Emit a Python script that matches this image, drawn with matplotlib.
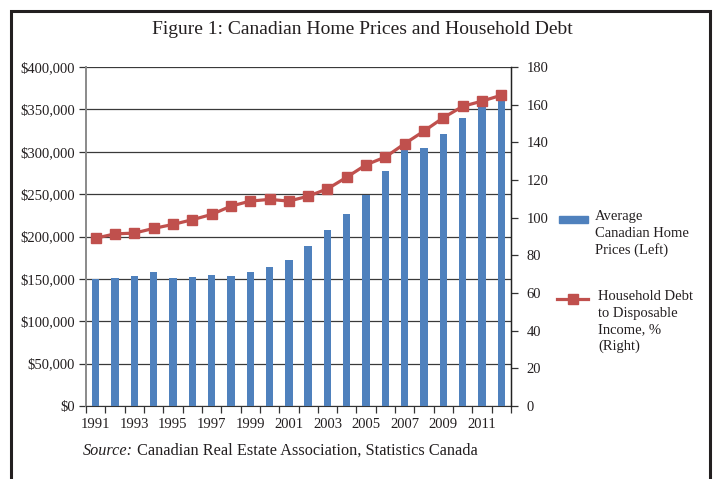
import matplotlib
matplotlib.use("Agg")
import matplotlib.pyplot as plt
from matplotlib.patches import Rectangle
from matplotlib.lines import Line2D
import numpy as np

years = list(range(1991, 2013))
home_prices = [149400, 150600, 153000, 158000, 150600, 151800, 154200, 153000,
               158000, 164400, 172300, 189000, 207900, 226900, 249000, 276700,
               304700, 305000, 320600, 340000, 356000, 362000]
debt_ratio = [89.1, 91.4, 91.8, 94.3, 96.4, 98.9, 101.7, 106.1, 108.8, 109.7,
              108.8, 111.4, 115.3, 121.5, 128.1, 132.2, 139.3, 146.0, 153.1,
              159.1, 161.9, 165.0]
left_ticks = [0, 50000, 100000, 150000, 200000, 250000, 300000, 350000, 400000]
right_ticks = [0, 20, 40, 60, 80, 100, 120, 140, 160, 180]

title = "Figure 1: Canadian Home Prices and Household Debt"
bar_label = "Average\nCanadian Home\nPrices (Left)"
line_label = "Household Debt\nto Disposable\nIncome, %\n(Right)"
source_lead = "Source:"
source_rest = " Canadian Real Estate Association, Statistics Canada"

BLUE = "#4F81BD"
RED = "#C0504D"
TXT = "#231F20"
SERIF = ["Liberation Serif", "DejaVu Serif"]
plt.rcParams['font.family'] = SERIF

W, H = 713, 479
fig = plt.figure(figsize=(W / 100, H / 100), dpi=100)

x0, x1, ytop, ybot = 86, 511, 67, 406
ax = fig.add_axes([x0 / W, 1 - ybot / H, (x1 - x0) / W, (ybot - ytop) / H])
ax2 = ax.twinx()

x = np.arange(len(years))
ax.bar(x, home_prices, width=0.38, color=BLUE, zorder=3)
ax.set_xlim(-0.5, len(years) - 0.5)
ax.set_ylim(0, 400000)
ax.set_yticks(left_ticks)
ax.set_yticklabels(["${:,}".format(v) for v in left_ticks])
ax.yaxis.grid(True, color="#3a3a3a", lw=0.9, zorder=0)
ax.set_axisbelow(True)

# x ticks: boundaries as major (marks), labels at odd years as minor
ax.set_xticks(np.arange(-0.5, len(years), 1.0))
ax.set_xticklabels([])
ax.set_xticks(x[::2], minor=True)
ax.set_xticklabels([str(y) for y in years[::2]], minor=True)
ax.tick_params(axis="x", which="major", direction="out", length=5, width=0.9, color="#333")
ax.tick_params(axis="x", which="minor", length=0, pad=9, labelsize=10.5, labelcolor=TXT)
ax.tick_params(axis="y", direction="out", length=5, width=0.9, color="#333",
               labelsize=10.5, labelcolor=TXT, pad=3)

ax2.plot(x, debt_ratio, color=RED, lw=2.3, marker="s", markersize=7.5,
         markerfacecolor=RED, markeredgecolor=RED, zorder=4)
ax2.set_ylim(0, 180)
ax2.set_yticks(right_ticks)
ax2.tick_params(axis="y", direction="out", length=5, width=0.9, color="#333",
                labelsize=10.5, labelcolor=TXT, pad=6)

for a in (ax, ax2):
    a.spines["top"].set_visible(False)
ax.spines["left"].set_color("#8a8a8a")
ax.spines["left"].set_linewidth(1.4)
ax.spines["bottom"].set_color("#333")
ax2.spines["left"].set_visible(False)
ax2.spines["bottom"].set_visible(False)
ax2.spines["right"].set_color("#222")
ax2.spines["right"].set_linewidth(1.0)

# Title
fig.text(362 / W, 1 - 30 / H, title, ha="center", va="center", fontsize=14, color=TXT)

# Legend (manual)
fig.patches.append(Rectangle((559 / W, 1 - 223 / H), 29 / W, 7 / H,
                             transform=fig.transFigure, color=BLUE))
fig.text(595 / W, 1 - 210 / H, bar_label, ha="left", va="top", fontsize=10.5,
         color=TXT, linespacing=1.36)
fig.lines.append(Line2D([557 / W, 588 / W], [1 - 299 / H, 1 - 299 / H],
                        transform=fig.transFigure, color=RED, lw=2.3))
fig.lines.append(Line2D([572.5 / W], [1 - 299 / H], transform=fig.transFigure,
                        marker="s", markersize=7.5, color=RED))
fig.text(598 / W, 1 - 290 / H, line_label, ha="left", va="top", fontsize=10.5,
         color=TXT, linespacing=1.36)

# Source
src = fig.text(83 / W, 1 - 451 / H, source_lead, ha="left", va="center",
               fontsize=11.7, style="italic", color=TXT)
ax.annotate(source_rest, xy=(1, 0), xycoords=src, ha="left", va="bottom",
            fontsize=11.7, color=TXT, annotation_clip=False)

# Frame
fig.patches.append(Rectangle((11 / W, -0.1), 699 / W, 1.1 - 11 / H,
                             transform=fig.transFigure, fill=False,
                             edgecolor="#231F20", lw=2.2))

fig.savefig("out.png", dpi=100)
